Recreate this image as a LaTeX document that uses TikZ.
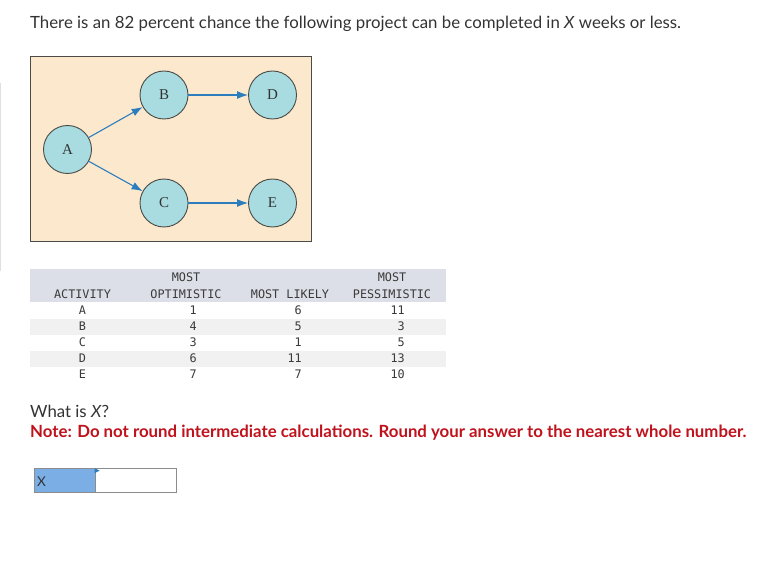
\documentclass[tikz,border=0pt]{standalone}
\usepackage{fontspec}
\setmainfont{Liberation Serif}
\setsansfont{Lato}
\setmonofont{DejaVu Sans Mono}
\usepackage{tikz}
\usetikzlibrary{arrows, arrows.meta, positioning, calc}
\definecolor{boxbg}{HTML}{FCE9CD}
\definecolor{nodebg}{HTML}{A9DCE0}
\definecolor{linegray}{HTML}{4A4A46}
\definecolor{arrowblue}{HTML}{2C7DBD}
\definecolor{headbg}{HTML}{DCDFE7}
\definecolor{stripebg}{HTML}{F1F1F2}
\definecolor{tabtext}{HTML}{3A3A3A}
\definecolor{noteRed}{HTML}{C0121C}
\definecolor{answerblue}{HTML}{7AAEE4}

\begin{document}
\begin{tikzpicture}[
    x=1pt, y=-1pt,
    activity/.style={circle, draw=linegray, fill=nodebg, line width=0.9pt, minimum size=48pt, inner sep=0pt, text=black!80, font=\fontsize{15}{17}\selectfont},
    arrow/.style={-{Latex[length=11pt, width=8pt]}, draw=arrowblue, line width=1.1pt},
    head/.style={font=\ttfamily\fontsize{11.8}{14}\selectfont, text=tabtext, inner sep=0pt, anchor=base},
    cell/.style={font=\ttfamily\fontsize{11.8}{14}\selectfont, text=tabtext, inner sep=0pt, anchor=base},
    num/.style={font=\ttfamily\fontsize{11.8}{14}\selectfont, text=tabtext, inner sep=0pt, anchor=base east},
    prose/.style={font=\sffamily\fontsize{16.8}{19}\selectfont, text=black!80, inner sep=0pt, anchor=base west}
]
    \useasboundingbox [fill=white] (0,0) rectangle (781,569);

    % Question
    \node [prose] (question) at (30,29) {There is an 82 percent chance the following project can be completed in \textit{X} weeks or less.};

    % Side rule
    \draw [black!12, line width=0.8pt] (0.5,83) -- (0.5,271);

    % Network
    \node [draw=linegray, fill=boxbg, line width=0.9pt, minimum width=281pt, minimum height=185pt, inner sep=0pt] (frame) at (170.5,149) {};
    \node [activity] (a) at (67.5,149.5) {A};
    \node [activity] (b) at (164,95) {B};
    \node [activity] (d) at (272.5,95) {D};
    \node [activity] (c) at (164,203) {C};
    \node [activity] (e) at (272.5,203) {E};

    % Arrows
    \draw [arrow] (a) -- (b);
    \draw [arrow] (a) -- (c);
    \draw [arrow] (b) -- (d);
    \draw [arrow] (c) -- (e);

    % Table bands
    \fill [headbg] (30,269) rectangle (446,302);
    \fill [stripebg] (30,318.5) rectangle (446,334.5);
    \fill [stripebg] (30,350.5) rectangle (446,366.5);

    % Header
    \node [head] (hact) at (82.5,298) {ACTIVITY};
    \node [head] (hopt1) at (186,281) {MOST};
    \node [head] (hopt2) at (186,298) {OPTIMISTIC};
    \node [head] (hlik) at (290,298) {MOST LIKELY};
    \node [head] (hpes1) at (392,281) {MOST};
    \node [head] (hpes2) at (392,298) {PESSIMISTIC};

    % Rows
    \node [cell] (ra) at (82.5,314) {A};
    \node [num] (ra1) at (197,314) {1};
    \node [num] (ra2) at (302,314) {6};
    \node [num] (ra3) at (405,314) {11};

    \node [cell] (rb) at (82.5,330.5) {B};
    \node [num] (rb1) at (197,330.5) {4};
    \node [num] (rb2) at (302,330.5) {5};
    \node [num] (rb3) at (405,330.5) {3};

    \node [cell] (rc) at (82.5,346.5) {C};
    \node [num] (rc1) at (197,346.5) {3};
    \node [num] (rc2) at (302,346.5) {1};
    \node [num] (rc3) at (405,346.5) {5};

    \node [cell] (rd) at (82.5,362.5) {D};
    \node [num] (rd1) at (197,362.5) {6};
    \node [num] (rd2) at (302,362.5) {11};
    \node [num] (rd3) at (405,362.5) {13};

    \node [cell] (re) at (82.5,378.5) {E};
    \node [num] (re1) at (197,378.5) {7};
    \node [num] (re2) at (302,378.5) {7};
    \node [num] (re3) at (405,378.5) {10};

    % Ask
    \node [prose] (ask) at (30,417.5) {What is \textit{X}?};
    \node [prose, text=noteRed, font=\sffamily\bfseries\fontsize{16.8}{19}\selectfont] (note) at (30,437) {Note: Do not round intermediate calculations. Round your answer to the nearest whole number.};

    % Answer field
    \node [draw=black!45, fill=answerblue, line width=0.8pt, minimum width=61pt, minimum height=24pt, inner sep=0pt] (xlabel) at (64.5,480.5) {};
    \node [draw=black!45, fill=white, line width=0.8pt, minimum width=81pt, minimum height=24pt, inner sep=0pt] (xfield) at (135.5,480.5) {};
    \node [prose, font=\sffamily\fontsize{13.5}{15}\selectfont] (xtext) at (37,486) {X};
    \fill [arrowblue] (xfield.north west) -- ++(5,2.5) -- ++(-5,2.5) -- cycle;
\end{tikzpicture}
\end{document}
